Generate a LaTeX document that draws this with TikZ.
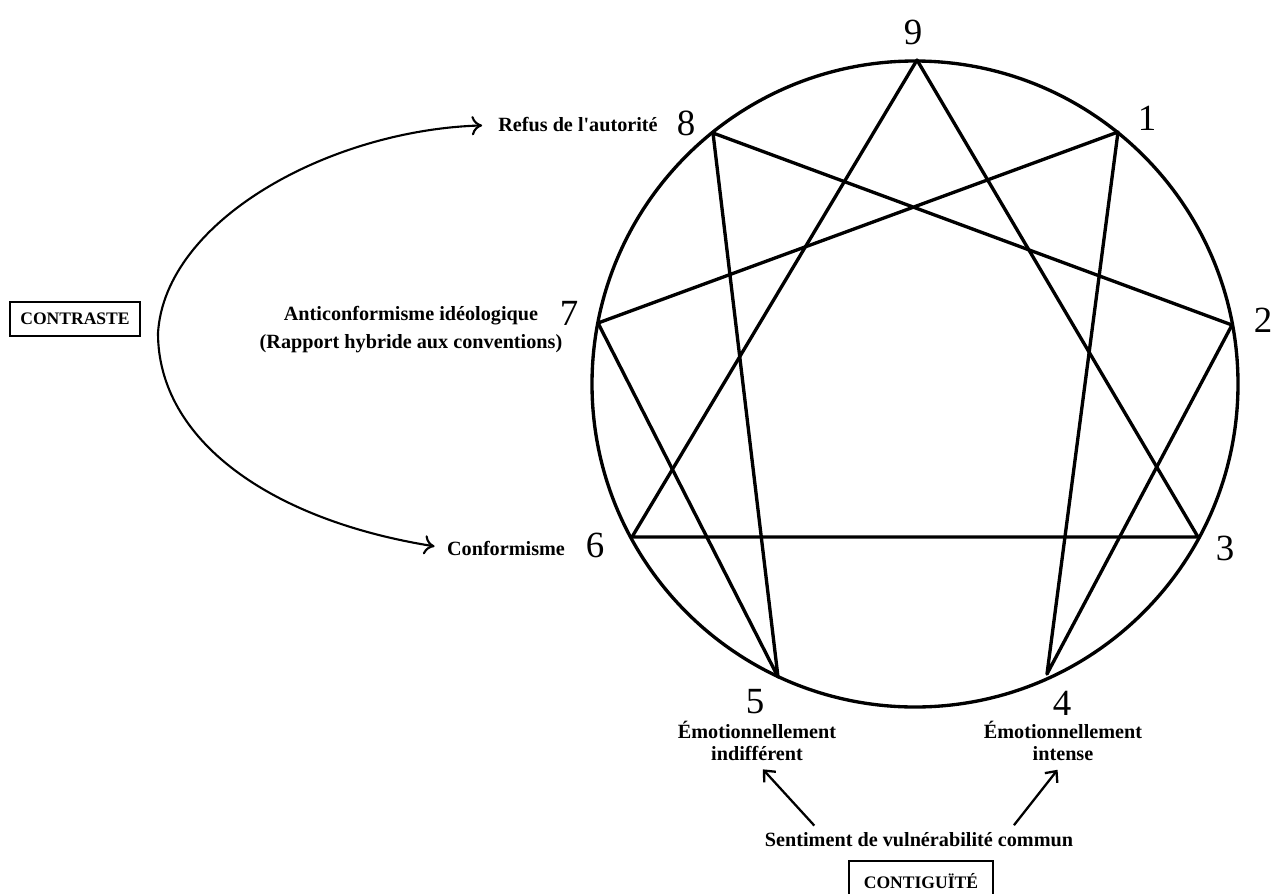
\documentclass[tikz,border=0pt]{standalone}
\usepackage{fontspec}
\setmainfont{Liberation Serif}
\usetikzlibrary{arrows.meta,calc}

\tikzset{
  numlabel/.style={font=\fontsize{21}{21}\selectfont, inner sep=1pt},
  txtlabel/.style={font=\bfseries\fontsize{11.5}{12.5}\selectfont, align=center, inner sep=1pt},
  framebox/.style={draw, line width=1.3pt, font=\bfseries\fontsize{10}{12}\selectfont,
    minimum width=74pt, minimum height=19pt, inner sep=0pt},
  figline/.style={line width=1.9pt, line join=round, line cap=round},
  bigarrow/.style={line width=1.2pt, {To[length=6pt,width=11pt]}-{To[length=6pt,width=11pt]}},
  smallarrow/.style={line width=1.3pt, -{Straight Barb[length=5pt,width=9pt]}},
}

\begin{document}
\begin{tikzpicture}[x=0.02cm,y=-0.02cm]
  \useasboundingbox (0,0) rectangle (1275,893);
  \clip (0,0) rectangle (1275,893);

  % points of the figure
  \coordinate (p9) at (917,60);
  \coordinate (p1) at (1118,132);
  \coordinate (p2) at (1232,325);
  \coordinate (p3) at (1198,537);
  \coordinate (p4) at (1047,674);
  \coordinate (p5) at (778,677);
  \coordinate (p6) at (632,537);
  \coordinate (p7) at (598,323);
  \coordinate (p8) at (713,133);

  \draw[figline] (915,384) circle [radius=323];
  \draw[figline] (p9) -- (p3) -- (p6) -- cycle;
  \draw[figline] (p1) -- (p4) -- (p2) -- (p8) -- (p5) -- (p7) -- cycle;

  % numbers
  \node[numlabel] (n9) at (913,32) {9};
  \node[numlabel] (n1) at (1147,118) {1};
  \node[numlabel] (n2) at (1263,320) {2};
  \node[numlabel] (n3) at (1225,548) {3};
  \node[numlabel] (n4) at (1062,703) {4};
  \node[numlabel] (n5) at (755,702) {5};
  \node[numlabel] (n6) at (595,545) {6};
  \node[numlabel] (n7) at (569,313) {7};
  \node[numlabel] (n8) at (686,123) {8};

  % labels
  \node[txtlabel] (refus) at (578,125) {Refus de l\textquotesingle autorité};
  \node[txtlabel] (anti) at (411,330) {Anticonformisme idéologique\\[3.5pt](Rapport hybride aux conventions)};
  \node[txtlabel] (conf) at (506,548) {Conformisme};
  \node[txtlabel] (indiff) at (757,741) {Émotionnellement\\indifférent};
  \node[txtlabel] (intense) at (1063,741) {Émotionnellement\\intense};
  \node[txtlabel] (sent) at (919,840) {Sentiment de vulnérabilité commun};

  \node[framebox] (contraste) at (75,319) {CONTRASTE};
  \node[framebox, minimum width=82pt, minimum height=23pt] (contig) at (921,881) {CONTIGUÏTÉ};

  % connectors
  \coordinate (cleft) at (158,333);
  \draw[bigarrow, shorten <=6pt, shorten >=8pt] (conf.west) .. controls (270,520) and (158,440) .. (cleft)
    .. controls (165,220) and (330,130) .. (refus.west);
  \draw[smallarrow, shorten <=4pt, shorten >=5pt] ($(sent.north west)!0.18!(sent.north east)$) -- (indiff.south);
  \draw[smallarrow, shorten <=4pt, shorten >=5pt] ($(sent.north west)!0.79!(sent.north east)$) -- (intense.south);

\end{tikzpicture}
\end{document}
